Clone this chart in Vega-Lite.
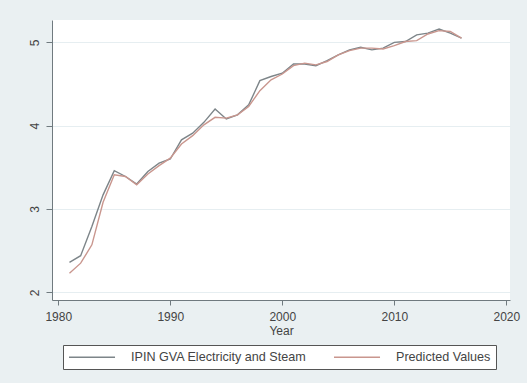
{
  "$schema": "https://vega.github.io/schema/vega-lite/v6.json",
  "width": 458,
  "height": 280,
  "autosize": {"type": "none"},
  "padding": {"left": 52, "top": 20, "right": 17, "bottom": 83},
  "background": "#eaf0f2",
  "config": {
    "view": {"fill": "#ffffff", "stroke": null},
    "font": "Liberation Sans"
  },
  "data": {
    "values": [
      {"year": 1981, "series": "IPIN GVA Electricity and Steam", "value": 2.36},
      {"year": 1982, "series": "IPIN GVA Electricity and Steam", "value": 2.44},
      {"year": 1983, "series": "IPIN GVA Electricity and Steam", "value": 2.79},
      {"year": 1984, "series": "IPIN GVA Electricity and Steam", "value": 3.17},
      {"year": 1985, "series": "IPIN GVA Electricity and Steam", "value": 3.46},
      {"year": 1986, "series": "IPIN GVA Electricity and Steam", "value": 3.39},
      {"year": 1987, "series": "IPIN GVA Electricity and Steam", "value": 3.30},
      {"year": 1988, "series": "IPIN GVA Electricity and Steam", "value": 3.45},
      {"year": 1989, "series": "IPIN GVA Electricity and Steam", "value": 3.55},
      {"year": 1990, "series": "IPIN GVA Electricity and Steam", "value": 3.60},
      {"year": 1991, "series": "IPIN GVA Electricity and Steam", "value": 3.83},
      {"year": 1992, "series": "IPIN GVA Electricity and Steam", "value": 3.91},
      {"year": 1993, "series": "IPIN GVA Electricity and Steam", "value": 4.04},
      {"year": 1994, "series": "IPIN GVA Electricity and Steam", "value": 4.20},
      {"year": 1995, "series": "IPIN GVA Electricity and Steam", "value": 4.08},
      {"year": 1996, "series": "IPIN GVA Electricity and Steam", "value": 4.13},
      {"year": 1997, "series": "IPIN GVA Electricity and Steam", "value": 4.25},
      {"year": 1998, "series": "IPIN GVA Electricity and Steam", "value": 4.54},
      {"year": 1999, "series": "IPIN GVA Electricity and Steam", "value": 4.59},
      {"year": 2000, "series": "IPIN GVA Electricity and Steam", "value": 4.63},
      {"year": 2001, "series": "IPIN GVA Electricity and Steam", "value": 4.74},
      {"year": 2002, "series": "IPIN GVA Electricity and Steam", "value": 4.74},
      {"year": 2003, "series": "IPIN GVA Electricity and Steam", "value": 4.72},
      {"year": 2004, "series": "IPIN GVA Electricity and Steam", "value": 4.78},
      {"year": 2005, "series": "IPIN GVA Electricity and Steam", "value": 4.85},
      {"year": 2006, "series": "IPIN GVA Electricity and Steam", "value": 4.91},
      {"year": 2007, "series": "IPIN GVA Electricity and Steam", "value": 4.94},
      {"year": 2008, "series": "IPIN GVA Electricity and Steam", "value": 4.91},
      {"year": 2009, "series": "IPIN GVA Electricity and Steam", "value": 4.93},
      {"year": 2010, "series": "IPIN GVA Electricity and Steam", "value": 5.00},
      {"year": 2011, "series": "IPIN GVA Electricity and Steam", "value": 5.01},
      {"year": 2012, "series": "IPIN GVA Electricity and Steam", "value": 5.09},
      {"year": 2013, "series": "IPIN GVA Electricity and Steam", "value": 5.11},
      {"year": 2014, "series": "IPIN GVA Electricity and Steam", "value": 5.16},
      {"year": 2015, "series": "IPIN GVA Electricity and Steam", "value": 5.11},
      {"year": 2016, "series": "IPIN GVA Electricity and Steam", "value": 5.05},
      {"year": 1981, "series": "Predicted Values", "value": 2.23},
      {"year": 1982, "series": "Predicted Values", "value": 2.35},
      {"year": 1983, "series": "Predicted Values", "value": 2.57},
      {"year": 1984, "series": "Predicted Values", "value": 3.08},
      {"year": 1985, "series": "Predicted Values", "value": 3.41},
      {"year": 1986, "series": "Predicted Values", "value": 3.39},
      {"year": 1987, "series": "Predicted Values", "value": 3.29},
      {"year": 1988, "series": "Predicted Values", "value": 3.42},
      {"year": 1989, "series": "Predicted Values", "value": 3.52},
      {"year": 1990, "series": "Predicted Values", "value": 3.61},
      {"year": 1991, "series": "Predicted Values", "value": 3.78},
      {"year": 1992, "series": "Predicted Values", "value": 3.88},
      {"year": 1993, "series": "Predicted Values", "value": 4.01},
      {"year": 1994, "series": "Predicted Values", "value": 4.10},
      {"year": 1995, "series": "Predicted Values", "value": 4.09},
      {"year": 1996, "series": "Predicted Values", "value": 4.13},
      {"year": 1997, "series": "Predicted Values", "value": 4.23},
      {"year": 1998, "series": "Predicted Values", "value": 4.42},
      {"year": 1999, "series": "Predicted Values", "value": 4.55},
      {"year": 2000, "series": "Predicted Values", "value": 4.62},
      {"year": 2001, "series": "Predicted Values", "value": 4.72},
      {"year": 2002, "series": "Predicted Values", "value": 4.75},
      {"year": 2003, "series": "Predicted Values", "value": 4.73},
      {"year": 2004, "series": "Predicted Values", "value": 4.77},
      {"year": 2005, "series": "Predicted Values", "value": 4.85},
      {"year": 2006, "series": "Predicted Values", "value": 4.90},
      {"year": 2007, "series": "Predicted Values", "value": 4.93},
      {"year": 2008, "series": "Predicted Values", "value": 4.93},
      {"year": 2009, "series": "Predicted Values", "value": 4.92},
      {"year": 2010, "series": "Predicted Values", "value": 4.96},
      {"year": 2011, "series": "Predicted Values", "value": 5.01},
      {"year": 2012, "series": "Predicted Values", "value": 5.02},
      {"year": 2013, "series": "Predicted Values", "value": 5.10},
      {"year": 2014, "series": "Predicted Values", "value": 5.14},
      {"year": 2015, "series": "Predicted Values", "value": 5.13},
      {"year": 2016, "series": "Predicted Values", "value": 5.05}
    ]
  },
  "mark": {"type": "line", "strokeWidth": 1.4},
  "encoding": {
    "x": {
      "field": "year",
      "type": "quantitative",
      "title": "Year",
      "scale": {"domain": [1979.44, 2020.33], "nice": false, "zero": false},
      "axis": {
        "values": [1980, 1990, 2000, 2010, 2020],
        "format": "d",
        "grid": false,
        "domainColor": "#707a7f",
        "tickColor": "#707a7f",
        "tickSize": 5,
        "labelFontSize": 12,
        "labelColor": "#444444",
        "labelPadding": 6,
        "titleFontSize": 12,
        "titleFontWeight": "normal",
        "titleColor": "#444444",
        "titlePadding": 3
      }
    },
    "y": {
      "field": "value",
      "type": "quantitative",
      "title": null,
      "scale": {"domain": [1.908, 5.268], "nice": false, "zero": false},
      "axis": {
        "values": [2, 3, 4, 5],
        "format": "d",
        "grid": true,
        "gridColor": "#e6eef1",
        "gridWidth": 1,
        "domainColor": "#707a7f",
        "tickColor": "#707a7f",
        "tickSize": 6,
        "labelFontSize": 12,
        "labelColor": "#444444",
        "labelAngle": -90,
        "labelAlign": "center",
        "labelBaseline": "bottom",
        "labelPadding": 5
      }
    },
    "color": {
      "field": "series",
      "type": "nominal",
      "scale": {
        "domain": ["IPIN GVA Electricity and Steam", "Predicted Values"],
        "range": ["#7d8589", "#c9968e"]
      },
      "legend": {
        "title": null,
        "orient": "none",
        "direction": "horizontal",
        "legendX": 11,
        "legendY": 325,
        "fillColor": "#ffffff",
        "strokeColor": "#555555",
        "padding": 5,
        "symbolType": "M-1,0H6.67",
        "symbolSize": 144,
        "symbolStrokeWidth": 1.5,
        "symbolFillColor": "transparent",
        "labelFontSize": 12.6,
        "labelColor": "#444444",
        "labelOffset": 49,
        "labelLimit": 400,
        "columnPadding": 24
      }
    }
  }
}
